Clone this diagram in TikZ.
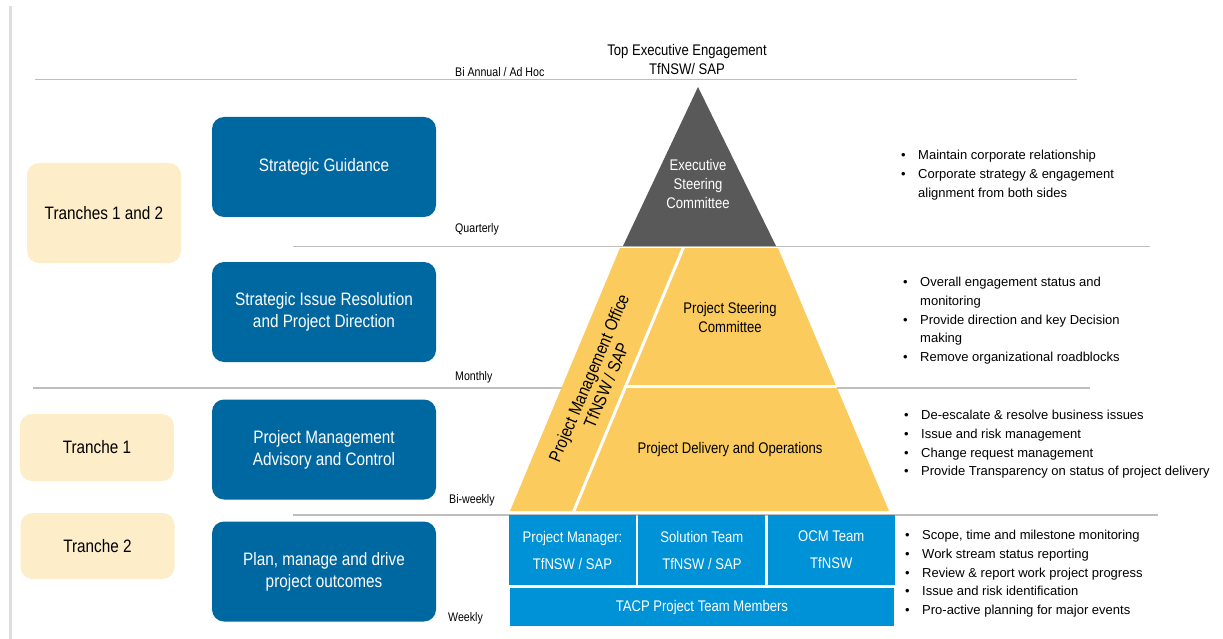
\documentclass[tikz,border=0pt]{standalone}
\usepackage{fontspec}
\setmainfont{Liberation Sans}
\newfontfamily\narrowsf[FakeStretch=0.85]{Liberation Sans}
\usepackage{tikz}
\usetikzlibrary{positioning}
\definecolor{tfblue}{RGB}{0,104,160}
\definecolor{teamblue}{RGB}{0,146,214}
\definecolor{pyryellow}{RGB}{251,203,93}
\definecolor{pyrgray}{RGB}{89,89,89}
\definecolor{tranchecream}{RGB}{253,238,201}
\definecolor{levelgray}{RGB}{190,190,190}
\definecolor{framegray}{RGB}{222,222,222}
\newcommand{\bul}{\makebox[17pt][l]{\textbullet}}
\newcommand{\cont}{\hspace*{17pt}}
\tikzset{
    strategybox/.style={fill=tfblue, text=white, rounded corners=12pt,
        minimum width=224pt, minimum height=100pt, align=center, inner sep=0pt,
        font=\narrowsf\fontsize{18}{22}\selectfont},
    tranchebox/.style={fill=tranchecream, text=black, rounded corners=12pt,
        minimum width=154pt, align=center, inner sep=0pt,
        font=\narrowsf\fontsize{18}{22}\selectfont},
    teambox/.style={fill=teamblue, text=white, minimum width=127pt,
        minimum height=70pt, align=center, inner sep=0pt,
        font=\narrowsf\fontsize{15.4}{27}\selectfont},
    freqlabel/.style={anchor=west, inner sep=0pt,
        font=\narrowsf\fontsize{12.5}{15}\selectfont},
    pyrlabel/.style={align=center, inner sep=0pt,
        font=\narrowsf\fontsize{15.4}{19}\selectfont},
    bulletlist/.style={anchor=north west, align=left, inner sep=0pt,
        font=\fontsize{13}{18.7}\selectfont},
    levelline/.style={draw=levelgray, line width=1.6pt},
    splitline/.style={draw=white, line width=3pt},
}

\begin{document}
\begin{tikzpicture}[x=1pt, y=-1pt]
\useasboundingbox (0,0) rectangle (1223,639);
% frame and meeting level lines
\draw[draw=framegray, line width=3pt] (10,6) -- (10,639);
\draw[levelline] (35,79.5) -- (1077,79.5);
\draw[levelline] (293,246.5) -- (1150,246.5);
\draw[levelline] (33,388) -- (1090,388);
\draw[levelline] (293,515) -- (1158,515);

\node[freqlabel] (biannual) at (455,72.5) {Bi Annual / Ad Hoc};
\node[freqlabel] (quarterly) at (455,229) {Quarterly};
\node[freqlabel] (monthly) at (455,377) {Monthly};
\node[freqlabel] (biweekly) at (449,500) {Bi-weekly};
\node[freqlabel] (weekly) at (448,618) {Weekly};

\node[tranchebox, minimum height=100pt] (tranches) at (104,213) {Tranches 1 and 2};
\node[tranchebox, minimum height=67pt] (tranche1) at (97,447.5) {Tranche 1};
\node[tranchebox, minimum height=66pt] (tranche2) at (97.5,546) {Tranche 2};

\node[strategybox] (guidance) at (324,167) {Strategic Guidance};
\node[strategybox] (issue) at (324,312) {Strategic Issue Resolution\\and Project Direction};
\node[strategybox] (advisory) at (324,449.5) {Project Management\\Advisory and Control};
\node[strategybox] (outcomes) at (324,571.5) {Plan, manage and drive\\project outcomes};

% pyramid
\node[pyrlabel] (topexec) at (687,59.5) {Top Executive Engagement\\TfNSW/ SAP};
\fill[pyrgray] (698,87) -- (776,246) -- (623,246) -- cycle;
\fill[pyryellow] (620,248) -- (778,248) -- (889,511) -- (510,511) -- cycle;
\begin{scope}
\clip (620,248) -- (778,248) -- (889,511) -- (510,511) -- cycle;
\draw[splitline] (684,246) -- (573,513);
\draw[splitline] (626,386.5) -- (900,386.5);
\end{scope}
\node[pyrlabel, text=white] (exec) at (698,184) {Executive\\Steering\\Committee};
\node[pyrlabel] (steering) at (730,317.5) {Project Steering\\Committee};
\node[pyrlabel] (delivery) at (730,450) {Project Delivery and Operations};
\node[pyrlabel, rotate=67, font=\narrowsf\fontsize{17.5}{19}\selectfont] (pmo) at (597.5,381.5)
    {Project Management Office\\TfNSW / SAP};

\node[teambox] (manager) at (572.5,550) {Project Manager:\\TfNSW / SAP};
\node[teambox, right=2pt of manager] (solution) {Solution Team\\TfNSW / SAP};
\node[teambox, right=2pt of solution] (ocm) {OCM Team\\TfNSW};
\node[teambox, minimum width=384pt, minimum height=38pt, below=3pt of solution] (members)
    {TACP Project Team Members};

\node[bulletlist] (execduties) at (901,150) {\bul Maintain corporate relationship\\
    \bul Corporate strategy \& engagement\\\cont alignment from both sides};
\node[bulletlist] (steerduties) at (903,277) {\bul Overall engagement status and\\
    \cont monitoring\\\bul Provide direction and key Decision\\\cont making\\
    \bul Remove organizational roadblocks};
\node[bulletlist] (deliveryduties) at (904,410) {\bul De-escalate \& resolve business issues\\
    \bul Issue and risk management\\\bul Change request management\\
    \bul Provide Transparency on status of project delivery};
\node[bulletlist] (teamduties) at (905,530) {\bul Scope, time and milestone monitoring\\
    \bul Work stream status reporting\\\bul Review \& report work project progress\\
    \bul Issue and risk identification\\\bul Pro-active planning for major events};
\end{tikzpicture}
\end{document}
